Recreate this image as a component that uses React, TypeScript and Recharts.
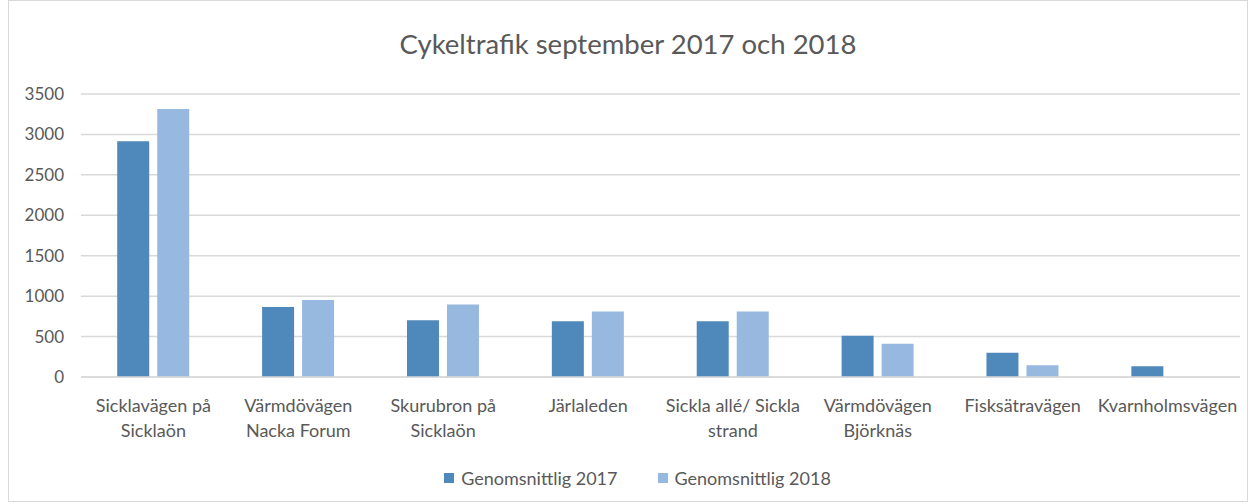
import { BarChart, Bar, XAxis, YAxis, CartesianGrid, Legend } from 'recharts';

const categories = [
  'Sicklavägen på\nSicklaön',
  'Värmdövägen\nNacka Forum',
  'Skurubron på\nSicklaön',
  'Järlaleden',
  'Sickla allé/ Sickla\nstrand',
  'Värmdövägen\nBjörknäs',
  'Fisksätravägen',
  'Kvarnholmsvägen',
];
const avg2017 = [2915, 865, 703, 688, 688, 510, 301, 132];
const avg2018 = [3315, 952, 897, 811, 811, 412, 144, 0];
const yTicks = [0, 500, 1000, 1500, 2000, 2500, 3000, 3500];

const colors = {
  y2017: '#4F88BB',
  y2018: '#98B9DF',
  grid: '#D9D9D9',
  text: '#595959',
};

const FONT = 'Lato, "Open Sans", sans-serif';

const data = categories.map((name, i) => ({
  name,
  g2017: avg2017[i],
  g2018: avg2018[i],
}));

const CategoryTick = ({ x, y, payload }: any) => {
  const lines = String(payload.value).split('\n');
  return (
    <text
      x={x}
      y={y}
      textAnchor="middle"
      fill={colors.text}
      fontSize={18}
      fontFamily={FONT}
    >
      {lines.map((line, i) => (
        <tspan key={i} x={x} dy={i === 0 ? 27 : 25}>
          {line}
        </tspan>
      ))}
    </text>
  );
};

const LegendContent = () => (
  <div
    style={{
      display: 'flex',
      justifyContent: 'center',
      gap: 40,
      paddingLeft: 26,
      fontFamily: FONT,
      fontSize: 18,
      color: colors.text,
    }}
  >
    {[
      { label: 'Genomsnittlig 2017', color: colors.y2017 },
      { label: 'Genomsnittlig 2018', color: colors.y2018 },
    ].map((item) => (
      <div key={item.label} style={{ display: 'flex', alignItems: 'center', gap: 7 }}>
        <span style={{ width: 10, height: 10, background: item.color, display: 'inline-block' }} />
        <span>{item.label}</span>
      </div>
    ))}
  </div>
);

export default function App() {
  return (
    <div
      style={{
        position: 'absolute',
        left: 8,
        top: 0,
        width: 1240,
        height: 502,
        border: '1px solid #D9D9D9',
        background: '#fff',
        boxSizing: 'border-box',
      }}
    >
      <div
        style={{
          position: 'absolute',
          top: 26,
          width: '100%',
          textAlign: 'center',
          fontFamily: FONT,
          fontSize: 27.5,
          color: colors.text,
        }}
      >
        Cykeltrafik september 2017 och 2018
      </div>
      <BarChart
        width={1238}
        height={500}
        data={data}
        margin={{ top: 93, right: 7, left: 0, bottom: 8 }}
        barGap={8}
        barCategoryGap="25%"
      >
        <CartesianGrid vertical={false} stroke={colors.grid} strokeWidth={1.5} />
        <XAxis
          dataKey="name"
          interval={0}
          axisLine={{ stroke: colors.grid, strokeWidth: 1.5 }}
          tickLine={false}
          height={90}
          tick={<CategoryTick />}
        />
        <YAxis
          domain={[0, 3500]}
          ticks={yTicks}
          width={72}
          axisLine={false}
          tickLine={false}
          tickMargin={11}
          tick={{ fill: colors.text, fontSize: 17, fontFamily: FONT }}
        />
        <Legend verticalAlign="bottom" height={26} content={<LegendContent />} />
        <Bar dataKey="g2017" name="Genomsnittlig 2017" fill={colors.y2017} isAnimationActive={false} />
        <Bar dataKey="g2018" name="Genomsnittlig 2018" fill={colors.y2018} isAnimationActive={false} />
      </BarChart>
    </div>
  );
}
